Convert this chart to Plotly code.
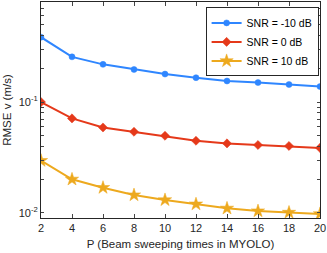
import plotly.graph_objects as go
import numpy as np

P = [2, 4, 6, 8, 10, 12, 14, 16, 18, 20]
snr_m10 = [0.385, 0.256, 0.219, 0.197, 0.179, 0.166, 0.155, 0.150, 0.144, 0.138]
snr_0 = [0.100, 0.0713, 0.059, 0.054, 0.0497, 0.0448, 0.0424, 0.041, 0.0402, 0.0386]
snr_10 = [0.0296, 0.0201, 0.0169, 0.0145, 0.0131, 0.0120, 0.0110, 0.0104, 0.0101, 0.0098]
names = ["SNR = -10 dB", "SNR = 0 dB", "SNR = 10 dB"]
colors = ["#2F86FF", "#E5391A", "#EDA91E"]
symbols = ["circle", "diamond", "star"]
sizes = [6, 7, 10]

x_ticks = [2, 4, 6, 8, 10, 12, 14, 16, 18, 20]
y_major = [0.01, 0.1]
y_major_text = ["10<sup>-2</sup>", "10<sup>-1</sup>"]

fig = go.Figure()
for ys, n, c, s, sz in zip([snr_m10, snr_0, snr_10], names, colors, symbols, sizes):
    fig.add_trace(go.Scatter(x=P, y=ys, name=n, mode="lines+markers",
                             line=dict(color=c, width=2),
                             marker=dict(symbol=s, size=sz, color=c,
                                         line=dict(width=0.5, color=c))))

minor_vals = []
for d in [0.01, 0.1]:
    for k in range(2, 10):
        v = d * k
        if v <= 0.8:
            minor_vals.append(v)
tickvals = y_major + minor_vals
ticktext = y_major_text + [""] * len(minor_vals)

font = "Liberation Sans, Arial, sans-serif"
fig.update_layout(
    width=327, height=253,
    margin=dict(l=41, r=7, t=2, b=35),
    paper_bgcolor="white", plot_bgcolor="white",
    font=dict(family=font, size=11, color="#262626"),
    showlegend=True,
    legend=dict(x=0.995, y=0.975, xanchor="right", yanchor="top",
                bgcolor="white", bordercolor="#262626", borderwidth=1,
                font=dict(size=10.5, color="#000000"),
                tracegroupgap=0, itemwidth=30),
    xaxis=dict(range=[2, 20], tickvals=x_ticks, ticks="inside", ticklen=4,
               showline=True, linecolor="#262626", linewidth=1, mirror="ticks",
               showgrid=False, zeroline=False,
               title=dict(text="P (Beam sweeping times in MYOLO)", standoff=6,
                          font=dict(size=11.5))),
    yaxis=dict(type="log", range=[np.log10(0.009), np.log10(0.8)],
               tickvals=tickvals, ticktext=ticktext, ticks="inside", ticklen=3,
               showline=True, linecolor="#262626", linewidth=1, mirror="ticks",
               showgrid=False, zeroline=False,
               title=dict(text="RMSE v (m/s)", standoff=4, font=dict(size=11.5))),
)
fig.write_html("out.html", config={"displayModeBar": False},
               post_script="document.body.style.margin='0';document.body.style.padding='0';")
